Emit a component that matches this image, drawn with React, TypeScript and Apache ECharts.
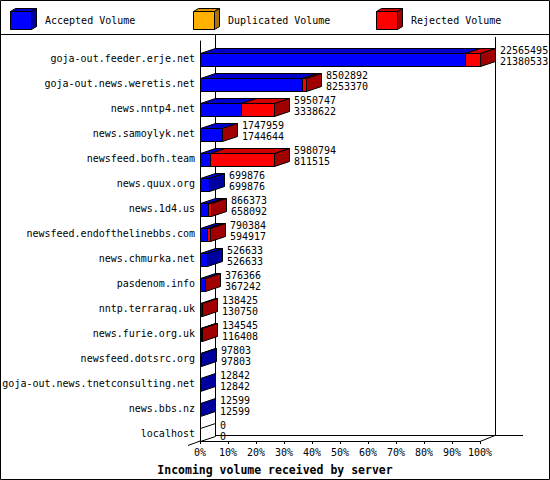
import { useRef, useEffect } from 'react';
import * as echarts from 'echarts';

// data
const servers = [
  'goja-out.feeder.erje.net',
  'goja-out.news.weretis.net',
  'news.nntp4.net',
  'news.samoylyk.net',
  'newsfeed.bofh.team',
  'news.quux.org',
  'news.1d4.us',
  'newsfeed.endofthelinebbs.com',
  'news.chmurka.net',
  'pasdenom.info',
  'nntp.terraraq.uk',
  'news.furie.org.uk',
  'newsfeed.dotsrc.org',
  'goja-out.news.tnetconsulting.net',
  'news.bbs.nz',
  'localhost',
];
const offeredVolume = [
  22565495, 8502892, 5950747, 1747959, 5980794, 699876, 866373, 790384,
  526633, 376366, 138425, 134545, 97803, 12842, 12599, 0,
];
const acceptedVolume = [
  21380533, 8253370, 3338622, 1744644, 811515, 699876, 658092, 594917,
  526633, 367242, 130750, 116408, 97803, 12842, 12599, 0,
];
const duplicatedVolume = [0, 0, 0, 0, 0, 0, 0, 0, 0, 0, 0, 0, 0, 0, 0, 0];
const legendNames = ['Accepted Volume', 'Duplicated Volume', 'Rejected Volume'];
const axisTitle = 'Incoming volume received by server';

const FONT = '"DejaVu Sans Mono", monospace';
const GL = 200, GR = 480, GT = 41, GB = 441;
const DX = 15, DY = 5;

// front, top, side colours per series
const COLORS = [
  ['#0000ff', '#0000cc', '#0000a0'],
  ['#ffb000', '#d89500', '#aa7500'],
  ['#ff0000', '#d00000', '#a00000'],
];

const px = (v: number) => Math.round(v) + 0.5;

const makeRender = (c: string[]) => (_params: any, api: any) => {
  const cat = api.value(0);
  const [xa0, yc] = api.coord([api.value(1), cat]);
  const [xb0] = api.coord([api.value(2), cat]);
  const last = api.value(3);
  const empty = api.value(4);
  const xa = px(xa0), xb = px(xb0);
  const yt = px(yc - 1), yb = px(yc + 12);
  const children: any[] = [];
  const stroke = { stroke: '#000', lineWidth: 1 };
  if (xb - xa > 0.5) {
    children.push({
      type: 'polygon',
      shape: { points: [[xa, yt], [xa + DX, yt - DY], [xb + DX, yt - DY], [xb, yt]] },
      style: { fill: c[1], ...stroke },
    });
    children.push({
      type: 'rect',
      shape: { x: xa, y: yt, width: xb - xa, height: yb - yt },
      style: { fill: c[0], ...stroke },
    });
  }
  if (last) {
    children.push({
      type: 'polygon',
      shape: { points: [[xb, yt], [xb + DX, yt - DY], [xb + DX, yb - DY], [xb, yb]] },
      style: { fill: empty ? '#fff' : c[2], ...stroke },
    });
  }
  return { type: 'group', children };
};

const renderLabels = (_params: any, api: any) => {
  const cat = api.value(0);
  const [x, yc] = api.coord([api.value(1), cat]);
  const font = '10px ' + FONT;
  const mk = (text: string, y: number) => ({
    type: 'text',
    x: Math.round(x) + DX + 5,
    y: Math.round(y),
    style: { text, font, fill: '#000', textVerticalAlign: 'middle', verticalAlign: 'middle' },
  });
  return {
    type: 'group',
    children: [mk(String(api.value(2)), yc - 4), mk(String(api.value(3)), yc + 7)],
  };
};

const buildLegend = () => {
  const xs = [10, 193, 376];
  const items: any[] = [];
  xs.forEach((x0, i) => {
    const c = COLORS[i];
    const x = x0 + 0.5, y = 11.5, w = 21, h = 18, d = 5, e = 3;
    items.push({
      type: 'polygon',
      shape: { points: [[x, y], [x + d, y - e], [x + w + d, y - e], [x + w, y]] },
      style: { fill: c[1], stroke: '#000', lineWidth: 1 },
    });
    items.push({
      type: 'polygon',
      shape: { points: [[x + w, y], [x + w + d, y - e], [x + w + d, y + h - e], [x + w, y + h]] },
      style: { fill: c[2], stroke: '#000', lineWidth: 1 },
    });
    items.push({
      type: 'rect',
      shape: { x, y, width: w, height: h },
      style: { fill: c[0], stroke: '#000', lineWidth: 1 },
    });
    items.push({
      type: 'text',
      x: x0 + 35,
      y: 20,
      style: {
        text: legendNames[i],
        font: '10px ' + FONT,
        fill: '#000',
        textVerticalAlign: 'middle',
        verticalAlign: 'middle',
      },
    });
  });
  return items;
};

export default function App() {
  const chartRef = useRef<HTMLDivElement>(null);

  useEffect(() => {
    if (!chartRef.current) return;
    document.body.style.margin = '0';
    const chart = echarts.init(chartRef.current, null, { renderer: 'svg' });

    const maxV = Math.max(...offeredVolume);
    const pct = (v: number) => (v / maxV) * 100;

    const seg = servers.map((_, i) => {
      const acc = acceptedVolume[i];
      const dup = duplicatedVolume[i];
      const rej = offeredVolume[i] - acc - dup;
      return { acc, dup, rej, empty: offeredVolume[i] === 0 ? 1 : 0 };
    });

    const accData = seg.map((s, i) => [i, 0, pct(s.acc), s.rej === 0 && s.dup === 0 ? 1 : 0, s.empty]);
    const dupData = seg.map((s, i) => [i, pct(s.acc), pct(s.acc + s.dup), s.rej === 0 && s.dup > 0 ? 1 : 0, 0]);
    const rejData = seg.map((s, i) => [i, pct(s.acc + s.dup), pct(s.acc + s.dup + s.rej), s.rej > 0 ? 1 : 0, 0]);
    const labelData = servers.map((_, i) => [i, pct(offeredVolume[i]), offeredVolume[i], acceptedVolume[i]]);

    const line = (x1: number, y1: number, x2: number, y2: number) => ({
      type: 'line',
      z: 0,
      shape: { x1, y1, x2, y2 },
      style: { stroke: '#000', lineWidth: 1 },
    });

    const option = {
      animation: false,
      backgroundColor: '#fff',
      textStyle: { fontFamily: FONT },
      title: {
        text: axisTitle,
        left: 'center',
        top: 459,
        textStyle: { fontFamily: FONT, fontSize: 11.5, fontWeight: 'bold', color: '#000' },
      },
      grid: {
        left: GL,
        right: 550 - GR,
        top: GT,
        bottom: 480 - GB,
        containLabel: false,
        outerBoundsMode: 'none',
      },
      xAxis: {
        type: 'value',
        min: 0,
        max: 100,
        interval: 10,
        axisLine: { show: true, lineStyle: { color: '#000', width: 1 } },
        axisTick: { show: true, length: 3, lineStyle: { color: '#000' } },
        splitLine: { show: false },
        axisLabel: { formatter: '{value}%', color: '#000', fontSize: 10, fontFamily: FONT, margin: 6 },
      },
      yAxis: {
        type: 'category',
        data: servers,
        inverse: true,
        axisLine: { show: true, onZero: false, lineStyle: { color: '#000', width: 1 } },
        axisTick: { show: false },
        splitLine: { show: false },
        axisLabel: {
          color: '#000',
          fontSize: 10,
          fontFamily: FONT,
          margin: 5,
          verticalAlign: 'top',
        },
      },
      graphic: [
        {
          type: 'rect',
          z: 0,
          shape: { x: 0.5, y: 0.5, width: 549, height: 479 },
          style: { fill: 'none', stroke: '#000', lineWidth: 1 },
        },
        line(0, 34.5, 550, 34.5),
        // back wall and floor
        line(GL + DX + 0.5, 35, GL + DX + 0.5, GB - 6 + 0.5),
        line(GR + DX + 0.5, 37, GR + DX + 0.5, GB - 6 + 0.5),
        line(GL + DX, GB - 6 + 0.5, GR + DX + 28, GB - 6 + 0.5),
        line(GL - 12, GB + 4.5, GL + DX, GB - 6 + 0.5),
        line(GR, GB + 0.5, GR + DX, GB - 6 + 0.5),
        ...buildLegend(),
      ],
      series: [
        {
          type: 'custom',
          name: legendNames[0],
          z: 5,
          renderItem: makeRender(COLORS[0]),
          encode: { x: [1, 2], y: 0 },
          data: accData,
        },
        {
          type: 'custom',
          name: legendNames[1],
          z: 5,
          renderItem: makeRender(COLORS[1]),
          encode: { x: [1, 2], y: 0 },
          data: dupData,
        },
        {
          type: 'custom',
          name: legendNames[2],
          z: 5,
          renderItem: makeRender(COLORS[2]),
          encode: { x: [1, 2], y: 0 },
          data: rejData,
        },
        {
          type: 'custom',
          name: 'labels',
          z: 6,
          renderItem: renderLabels,
          encode: { x: 1, y: 0 },
          data: labelData,
        },
      ],
    };

    chart.setOption(option as any);

    return () => {
      chart.dispose();
    };
  }, []);

  return (
    <div
      ref={chartRef}
      style={{ position: 'absolute', left: 0, top: 0, width: 550, height: 480 }}
    />
  );
}
